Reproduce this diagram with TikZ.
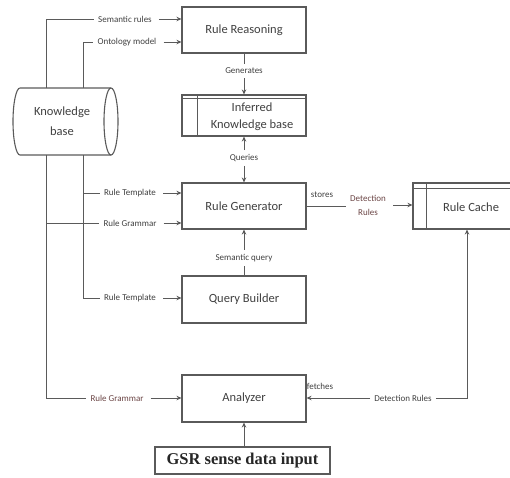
\documentclass[tikz,border=0pt]{standalone}
\usepackage{fontspec}
\setmainfont{Carlito}
\newfontfamily\gsrfont{Liberation Serif}
\usetikzlibrary{arrows.meta}
\definecolor{edge}{HTML}{5A5A5A}
\definecolor{txt}{HTML}{404040}
\definecolor{redtxt}{HTML}{6B4545}

\begin{document}
\begin{tikzpicture}[x=1pt,y=-1pt,
  every node/.style={text=txt},
  box/.style={draw=edge, line width=1.1pt, minimum width=124pt, inner sep=0pt,
    font=\fontsize{12.5}{17}\selectfont, align=center},
  plain/.style={inner sep=0pt, font=\fontsize{12.5}{17}\selectfont, align=center},
  lbl/.style={font=\fontsize{9}{10}\selectfont, inner sep=4pt, align=center},
  conn/.style={draw=edge, line width=0.9pt},
  arr/.style={conn, -{Stealth[length=5pt,width=4.5pt]}},
  feed/.style={arr, shorten <=3pt},
]
\useasboundingbox (0,0) rectangle (510,477);

% trunk positions of the knowledge base feeds
\coordinate (trunkA) at (46,0);
\coordinate (trunkB) at (83,0);
\coordinate (cacheX) at (467,0);

% knowledge base cylinder
\node[plain, minimum width=105pt, minimum height=67pt, font=\fontsize{12.5}{20}\selectfont] (kb) at (62,121.5) {Knowledge\\base};
\draw[edge, line width=1.1pt] (111,88) -- (20,88)
  arc[start angle=90, end angle=270, x radius=7pt, y radius=33.5pt] -- (111,155);
\draw[edge, line width=1.1pt] (111,121.5) ellipse[x radius=7pt, y radius=33.5pt];

% processing boxes
\node[box, minimum height=46pt] (rr) at (244,30) {Rule Reasoning};
\node[box, minimum height=41pt] (ikb) at (244,115.5) {};
\node[plain] (ikbtext) at (252,117) {Inferred\\Knowledge base};
\draw[edge, line width=1pt] ([yshift=-4pt]ikb.north west) -- ([yshift=-4pt]ikb.north east);
\draw[edge, line width=1pt] ([xshift=16pt]ikb.north west) -- ([xshift=16pt]ikb.south west);
\node[box, minimum height=46pt] (rg) at (244,206) {Rule Generator};
\node[box, minimum height=47pt] (qb) at (244,299.5) {Query Builder};
\node[box, minimum height=47pt] (an) at (244,398.5) {Analyzer};
\node[draw=edge, line width=1.4pt, minimum width=175pt, minimum height=27pt, inner sep=0pt,
  text=black!85, font=\gsrfont\bfseries\fontsize{16.5}{18}\selectfont] (gsr) at (242.5,460.5) {GSR sense data input};

% rule cache store
\node[box, minimum width=99pt, minimum height=46pt] (rc) at (462.5,206) {};
\node[plain] (rctext) at (471,207) {Rule Cache};
\draw[edge, line width=1pt] ([yshift=-6pt]rc.north west) -- ([yshift=-6pt]rc.north east);
\draw[edge, line width=1pt] ([xshift=14pt]rc.north west) -- ([xshift=14pt]rc.south west);

% connector labels
\node[lbl] (lSem) at (125,19) {Semantic rules};
\node[lbl] (lOnt) at (127,42) {Ontology model};
\node[lbl] (lTpl1) at (130,193) {Rule Template};
\node[lbl] (lGr1) at (130,223) {Rule Grammar};
\node[lbl] (lTpl2) at (130,298) {Rule Template};
\node[lbl, text=redtxt] (lGr2) at (117,398) {Rule Grammar};
\node[lbl] (lGen) at (244,71) {Generates};
\node[lbl] (lQry) at (244,158) {Queries};
\node[lbl] (lSq) at (244,258) {Semantic query};
\node[lbl, inner sep=1pt] (lSto) at (322,195) {stores};
\node[lbl, text=redtxt, font=\fontsize{9}{14}\selectfont] (lDet1) at (368,205) {Detection\\Rules};
\node[lbl, inner sep=1pt] (lFet) at (320,386) {fetches};
\node[lbl] (lDet2) at (403,398) {Detection Rules};

% knowledge base feeds
\draw[conn] (kb.north -| trunkA) |- (lSem.west);
\draw[conn] (kb.north -| trunkB) |- (lOnt.west);
\draw[feed] (lSem.east) -- (rr.west |- lSem);
\draw[feed] (lOnt.east) -- (rr.west |- lOnt);
\draw[conn] (kb.south -| trunkB) |- (lTpl2.west);
\draw[conn] (trunkB |- lTpl1) -- (lTpl1.west);
\draw[conn] (kb.south -| trunkA) |- (lGr2.west);
\draw[conn] (trunkA |- lGr1) -- (lGr1.west);
\draw[feed] (lTpl1.east) -- (rg.west |- lTpl1);
\draw[feed] (lGr1.east) -- (rg.west |- lGr1);
\draw[feed] (lTpl2.east) -- (qb.west |- lTpl2);
\draw[feed] (lGr2.east) -- (an.west |- lGr2);

% reasoning chain
\draw[conn] (rr.south) -- (lGen.north);
\draw[arr] (lGen.south) -- (ikb.north);
\draw[arr] (lQry.north) -- (ikb.south);
\draw[arr] (lQry.south) -- (rg.north);
\draw[conn] (qb.north) -- (lSq.south);
\draw[arr] (lSq.north) -- (rg.south);

% detection rules to and from the cache
\draw[conn] (rg.east) -- (lDet1.west |- rg.east);
\draw[feed] (lDet1.east) -- (rc.west |- lDet1);
\draw[arr] (lDet2.east) -| (cacheX |- rc.south);
\draw[arr] (lDet2.west) -- (an.east |- lDet2);
\draw[arr] (gsr.north -| an.south) -- (an.south);
\end{tikzpicture}
\end{document}
